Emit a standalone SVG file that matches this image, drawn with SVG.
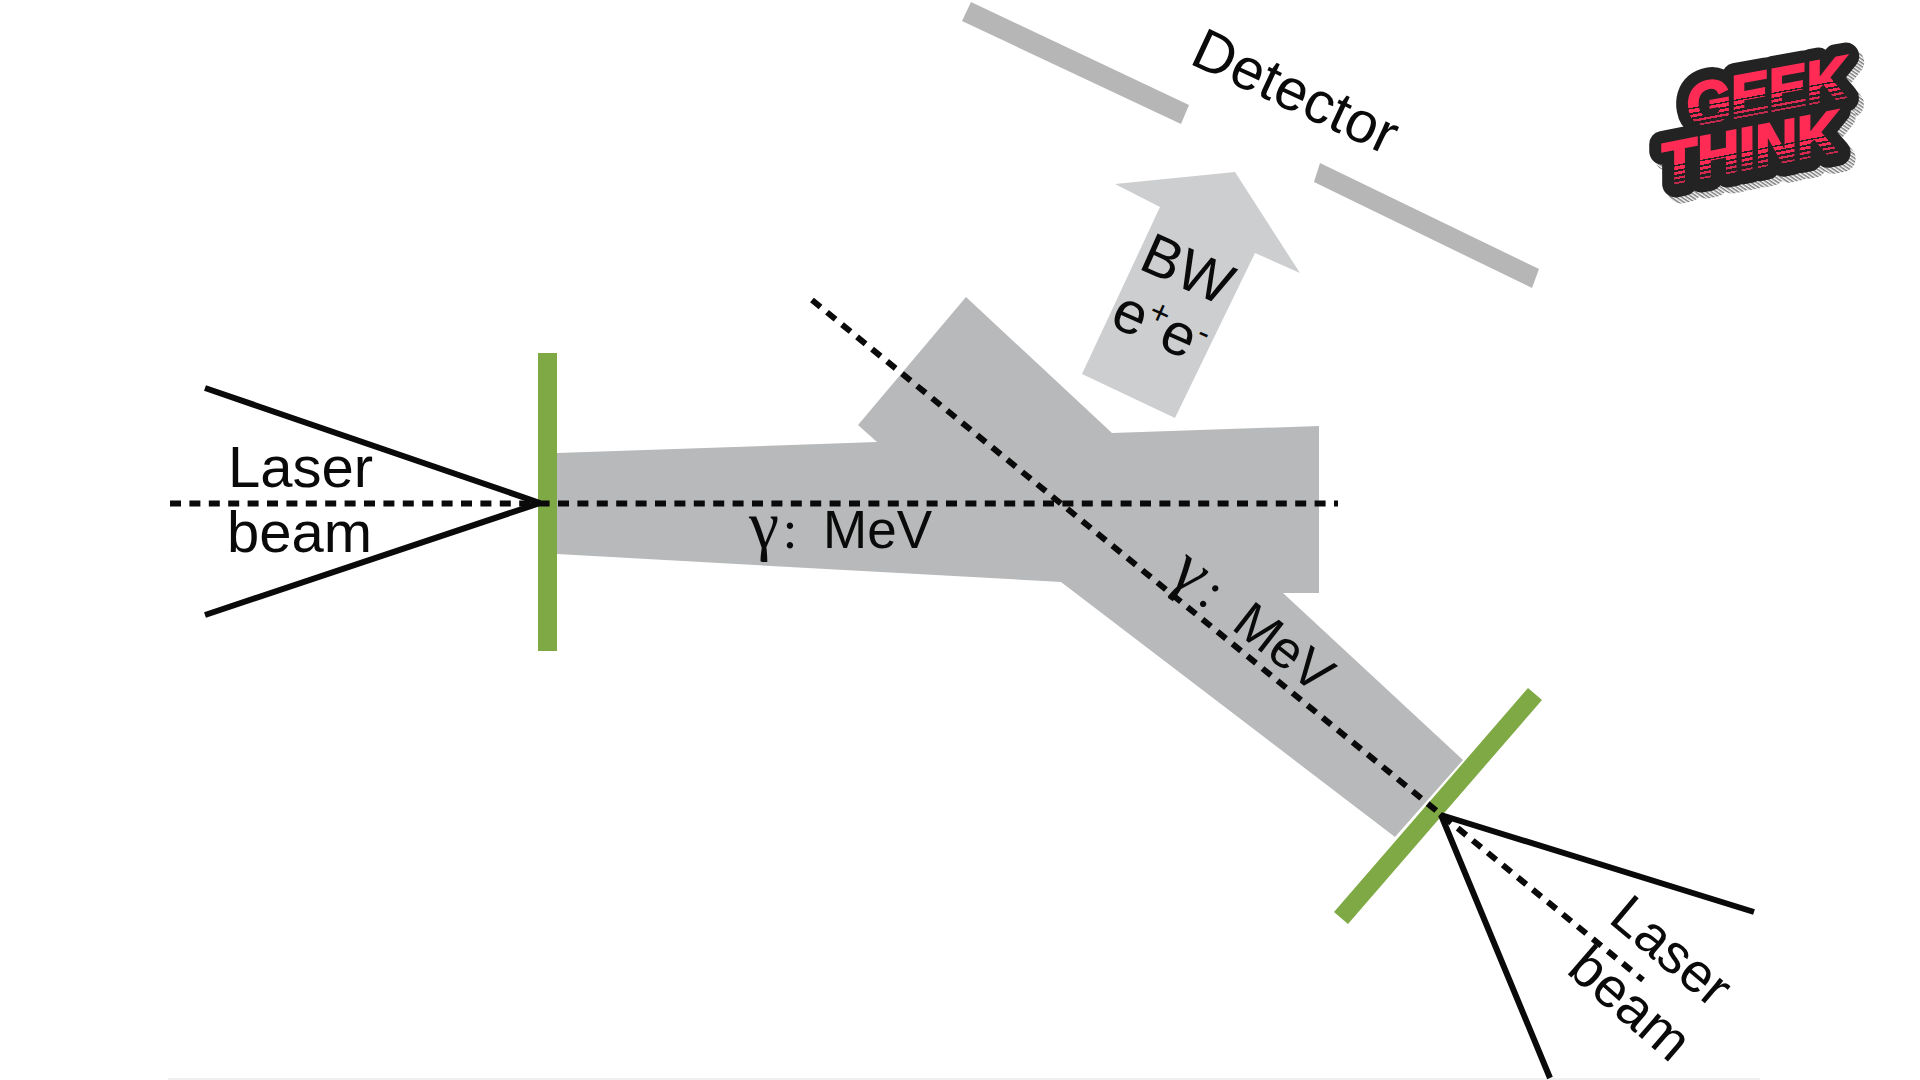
<svg xmlns="http://www.w3.org/2000/svg" width="1920" height="1080" viewBox="0 0 1920 1080">
<style>
text{fill:#0a0a0a;font-family:"Liberation Sans",Arial,sans-serif}
.l{font-size:58px}
.m{font-size:53px}
.g{font-family:"Liberation Serif","Times New Roman",serif;font-size:68px}
.c{font-family:"Liberation Serif","Times New Roman",serif;font-size:54px;text-anchor:middle}
.dash{fill:none;stroke:#0a0a0a;stroke-width:6;stroke-dasharray:11 8.4}
.ray{fill:none;stroke:#0a0a0a;stroke-width:6;stroke-linecap:butt;stroke-linejoin:bevel}
.green{fill:#7fa945}
.det{fill:#b5b6b5}
.lg{font-family:Roboto,"Liberation Sans",sans-serif;font-weight:900;font-style:italic;font-size:60px}
.red{fill:url(#fade);stroke:url(#fade);stroke-width:2.5}
</style>
<defs>
<linearGradient id="fade" gradientUnits="userSpaceOnUse" x1="0" y1="-44" x2="0" y2="2">
<stop offset="0" stop-color="#ff2b55"/><stop offset=".55" stop-color="#ff2b55"/>
<stop offset=".55" stop-color="#222"/><stop offset=".58" stop-color="#222"/><stop offset=".58" stop-color="#ff2b55"/>
<stop offset=".66" stop-color="#ff2b55"/><stop offset=".66" stop-color="#222"/><stop offset=".70" stop-color="#222"/><stop offset=".70" stop-color="#f02a55"/>
<stop offset=".76" stop-color="#f02a55"/><stop offset=".76" stop-color="#222"/><stop offset=".81" stop-color="#222"/><stop offset=".81" stop-color="#d82a50"/>
<stop offset=".86" stop-color="#d82a50"/><stop offset=".86" stop-color="#222"/><stop offset=".92" stop-color="#222"/><stop offset=".92" stop-color="#c02a4c"/>
<stop offset=".96" stop-color="#c02a4c"/><stop offset=".96" stop-color="#222"/><stop offset="1" stop-color="#222"/>
</linearGradient>
<pattern id="dither" width="3" height="3" patternUnits="userSpaceOnUse" patternTransform="rotate(45)">
<rect width="3" height="3" fill="#fff"/><rect width="3" height="1.5" fill="#777"/>
</pattern>
</defs>
<rect width="1920" height="1080" fill="#fff"/>
<rect x="168" y="1078" width="1592" height="2" fill="#f0f0f0"/>

<g id="gamma-beams">
<polygon fill="#b8b9ba" points="557,453 877,442 858,425 966,297 1112,433 1319,426 1319,593 1283,593 1463,760 1395,837 1061,582 557,554"/>
</g>
<g id="detector">
<polygon class="det" points="971,2 1189,105 1181,124 962,21"/>
<polygon class="det" points="1320,163 1539,269 1532,288 1314,182"/>
<text transform="translate(1188,63) rotate(25)" style="font-size:58px">Detector</text>
</g>
<g id="bw-arrow">
<polygon fill="#cdcecf" points="1082,374 1175,418 1255,253 1300,273 1235,172 1115,184 1160,207"/>
<text transform="translate(1137,268) rotate(24)" style="font-size:58px">BW</text>
<text transform="translate(1108,325) rotate(24)" style="font-size:59px">e<tspan dy="-21" style="font-size:34px">+</tspan><tspan dy="21">e</tspan><tspan dy="-21" style="font-size:34px">-</tspan></text>
</g>
<g id="left-foil"><rect class="green" x="538" y="353" width="19" height="298"/></g>
<g id="right-foil"><polygon class="green" points="1528,688 1542,700 1348,924 1334,912"/></g>

<g id="connectors">
<path class="ray" d="M205,388 540,503 205,615"/>
<path class="ray" d="M1754,912 1441,815 1550,1078"/>
<path class="dash" d="M170,503.5H1338"/>
<path class="dash" d="M812,300 1438,812 1643,980"/>
</g>

<g id="label-left-laser">
<text class="l" x="228" y="487">Laser</text>
<text class="l" x="227" y="552">beam</text>
</g>
<g id="label-gamma-1">
<text class="g" x="749" y="548">γ</text>
<text class="c" x="790" y="548">:</text>
<text class="m" x="823" y="548">MeV</text>
</g>
<g id="label-gamma-2" transform="translate(1230,628) rotate(38)">
<text class="g" x="-80" y="0">γ</text>
<text class="c" x="-36" y="0">:</text>
<text class="m" x="0" y="0">MeV</text>
</g>
<g id="label-right-laser">
<text transform="translate(1607,921) rotate(40)" style="font-size:55px">Laser</text>
<text transform="translate(1565,972) rotate(41)" style="font-size:56px">beam</text>
</g>

<g id="logo" class="lg">
<g transform="translate(5,6)" stroke="url(#dither)" stroke-width="27" stroke-linejoin="round">
<text style="fill:url(#dither)" transform="translate(1690,127) rotate(-10.5)" textLength="163" lengthAdjust="spacingAndGlyphs">GEEK</text>
<text style="fill:url(#dither)" transform="translate(1665,186) rotate(-11)" textLength="180" lengthAdjust="spacingAndGlyphs">THINK</text>
</g>
<g stroke="#232323" stroke-width="27" stroke-linejoin="round">
<text style="fill:#232323" transform="translate(1690,127) rotate(-10.5)" textLength="163" lengthAdjust="spacingAndGlyphs">GEEK</text>
<text style="fill:#232323" transform="translate(1665,186) rotate(-11)" textLength="180" lengthAdjust="spacingAndGlyphs">THINK</text>
</g>
<text class="red" transform="translate(1690,127) rotate(-10.5)" textLength="163" lengthAdjust="spacingAndGlyphs">GEEK</text>
<text class="red" transform="translate(1665,186) rotate(-11)" textLength="180" lengthAdjust="spacingAndGlyphs">THINK</text>
</g>
</svg>
